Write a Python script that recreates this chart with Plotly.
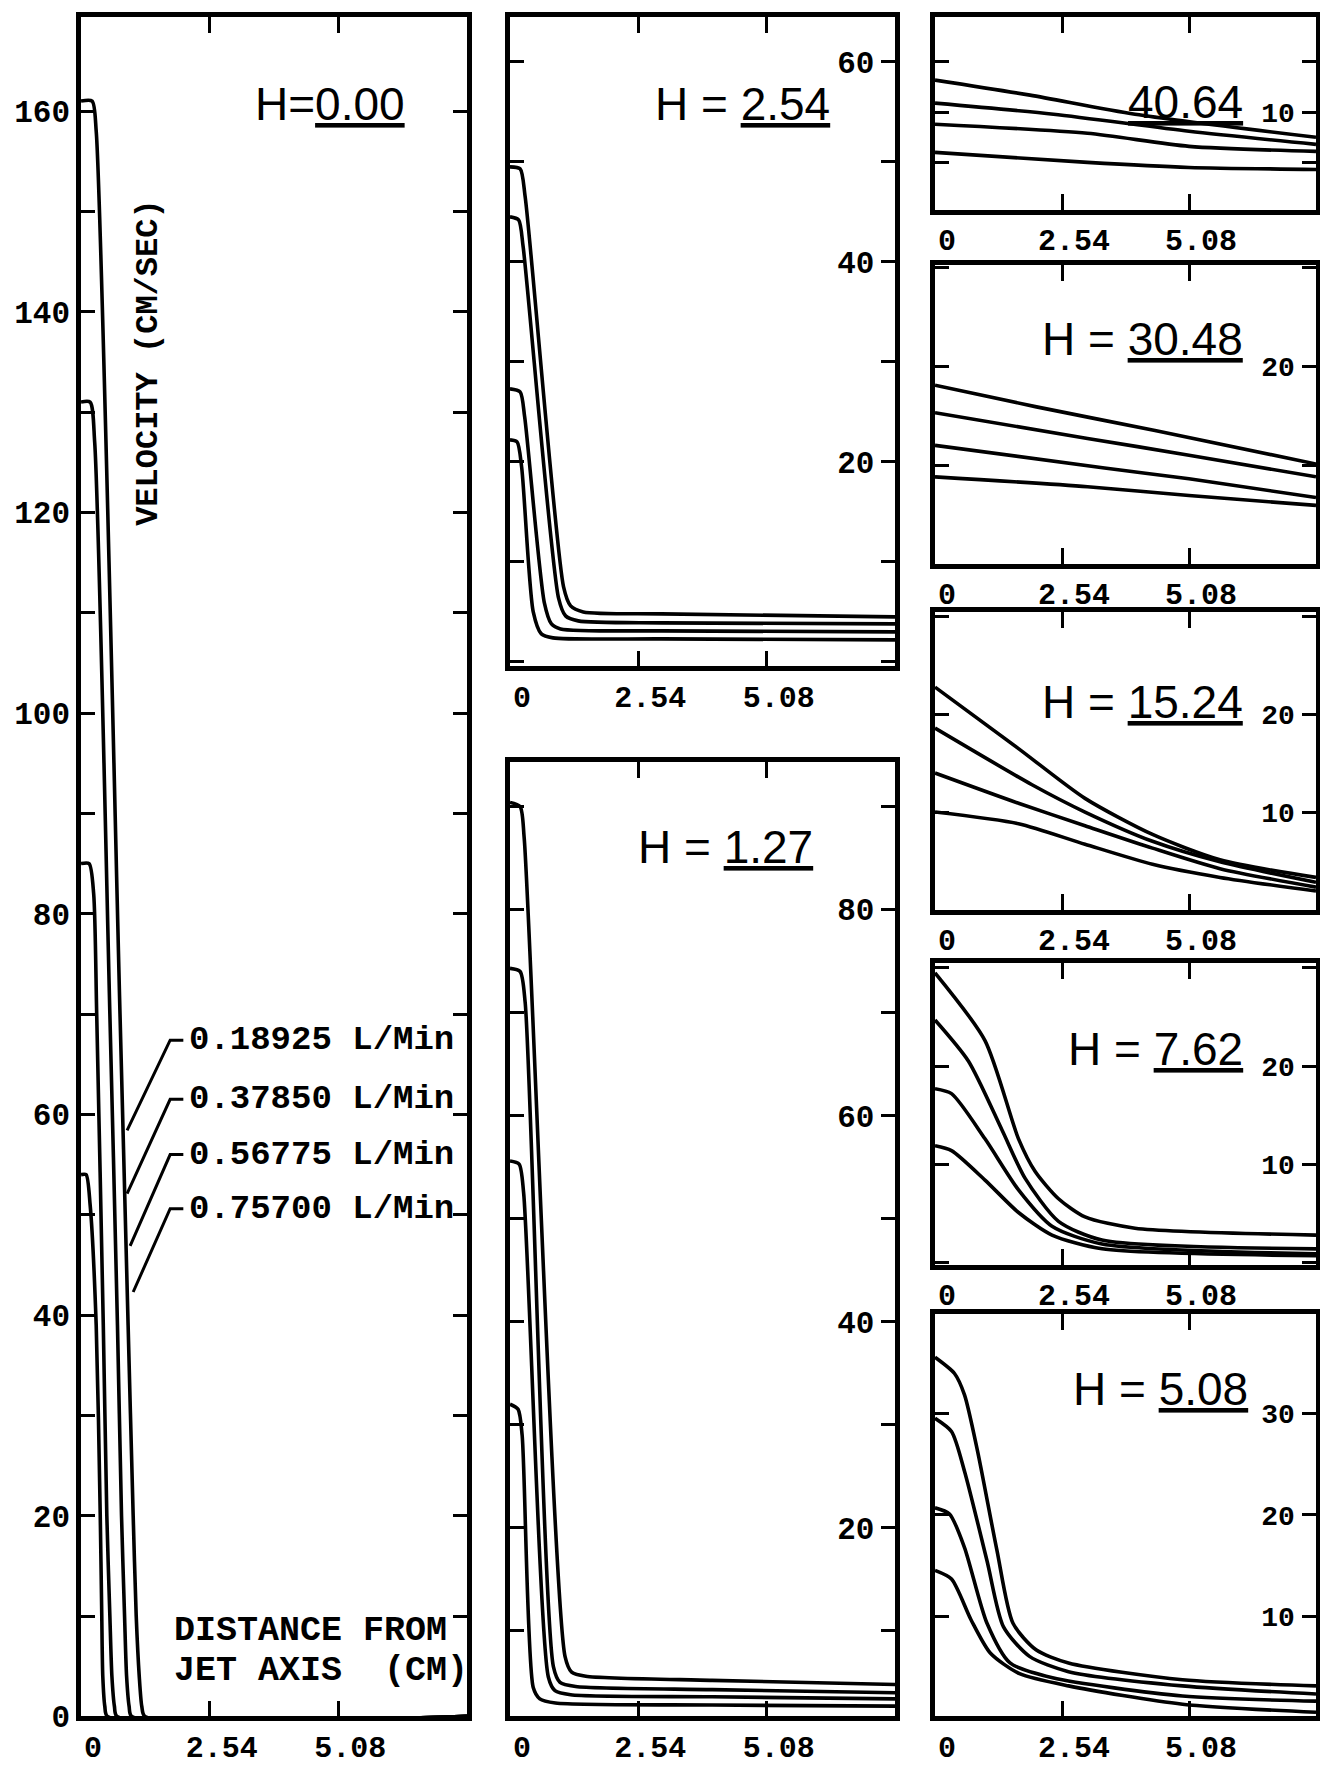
import plotly.graph_objects as go

# ---------------- data (x: distance from jet axis, cm ; v: velocity, cm/sec) ----------------
flow_labels = ["0.18925 L/Min", "0.37850 L/Min", "0.56775 L/Min", "0.75700 L/Min"]
x_tick_vals = [0, 2.54, 5.08]
x_tick_text = ["0", "2.54", "5.08"]
X_MAX = 7.62

# H = 0.00
h000_x = [[0, 0.22, 0.30, 0.77, 0.93, 1.03, 1.09, 1.15, 1.20, 1.26, 7.62],
          [0, 0.18, 0.27, 0.57, 0.72, 0.80, 0.86, 0.90, 0.95, 1.00, 7.62],
          [0, 0.16, 0.25, 0.31, 0.44, 0.51, 0.57, 0.61, 0.66, 0.71, 7.62],
          [0, 0.10, 0.18, 0.30, 0.38, 0.41, 0.43, 0.47, 0.52, 7.62]]
h000_v = [[161, 161, 158, 70, 39, 20, 10, 4, 1, 0, 0],
          [131, 131, 127, 70, 39, 20, 10, 4, 1, 0, 0],
          [85, 85, 82, 70, 39, 20, 10, 4, 1, 0, 0],
          [54, 54, 51, 39, 20, 10, 4, 1, 0, 0]]

# H = 2.54
h254_x = [[0, 0.20, 0.30, 1.06, 1.20, 1.45, 3.0, 7.62],
          [0, 0.17, 0.26, 0.96, 1.10, 1.35, 3.0, 7.62],
          [0, 0.20, 0.29, 0.68, 0.82, 1.00, 3.0, 7.62],
          [0, 0.14, 0.23, 0.46, 0.62, 0.85, 3.0, 7.62]]
h254_v = [[49.5, 49.3, 46.5, 7.5, 5.6, 5.0, 4.8, 4.5],
          [44.5, 44.2, 41.5, 6.4, 4.6, 4.1, 3.9, 3.8],
          [27.3, 27.0, 24.5, 5.9, 3.8, 3.3, 3.1, 3.0],
          [22.2, 22.0, 19.5, 5.0, 2.8, 2.4, 2.3, 2.2]]

# H = 1.27
h127_x = [[0, 0.20, 0.28, 1.09, 1.22, 1.50, 4.0, 7.62],
          [0, 0.20, 0.30, 0.86, 0.99, 1.30, 4.0, 7.62],
          [0, 0.18, 0.27, 0.76, 0.89, 1.20, 4.0, 7.62],
          [0, 0.16, 0.24, 0.46, 0.59, 0.90, 4.0, 7.62]]
h127_v = [[90.4, 90.0, 87.0, 7.5, 6.0, 5.6, 5.2, 4.8],
          [74.3, 74.0, 71.0, 6.5, 5.0, 4.6, 4.3, 4.0],
          [55.6, 55.3, 52.5, 5.5, 4.2, 3.8, 3.6, 3.4],
          [32.0, 31.5, 29.0, 4.5, 3.4, 3.0, 2.8, 2.7]]

# H = 40.64
h4064_x = [[0, 1.9, 4.0, 7.62],
           [0, 2.37, 5.08, 7.62],
           [0, 3.05, 5.08, 7.62],
           [0, 3.05, 5.08, 7.62]]
h4064_v = [[13.2, 11.7, 9.8, 7.5],
           [10.9, 9.8, 8.1, 6.8],
           [8.8, 7.9, 6.6, 6.1],
           [6.0, 5.0, 4.5, 4.3]]

# H = 30.48
h3048_x = [[0, 2.03, 4.4, 7.62],
           [0, 3.05, 5.08, 7.62],
           [0, 3.39, 5.08, 7.62],
           [0, 3.05, 5.08, 7.62]]
h3048_v = [[18.1, 15.9, 13.5, 10.1],
           [15.3, 12.7, 11.0, 8.8],
           [12.0, 9.7, 8.6, 6.7],
           [8.8, 7.8, 6.9, 5.9]]

# H = 15.24
h1524_x = [[0, 1.67, 3.0, 4.35, 5.7, 7.62],
           [0, 1.94, 3.0, 4.35, 5.7, 7.62],
           [0, 1.67, 3.0, 4.35, 5.7, 7.62],
           [0, 1.67, 3.0, 4.35, 5.7, 7.62]]
h1524_v = [[22.8, 16.5, 11.4, 7.7, 5.1, 3.3],
           [18.6, 12.8, 10.0, 7.0, 4.9, 2.8],
           [14.0, 10.9, 8.6, 6.3, 4.2, 2.3],
           [10.0, 8.8, 6.7, 4.65, 3.3, 1.9]]

# H = 7.62
h762_x = [[0, 1.0, 1.67, 2.0, 2.47, 3.0, 4.0, 7.62],
          [0, 0.67, 1.34, 1.8, 2.47, 3.34, 7.62],
          [0, 0.33, 1.0, 1.67, 2.34, 3.34, 7.62],
          [0, 0.33, 1.0, 1.67, 2.34, 3.34, 7.62]]
h762_v = [[29.5, 22.6, 12.6, 9.3, 6.5, 4.65, 3.5, 2.8],
          [24.7, 20.5, 13.5, 8.6, 4.2, 2.3, 1.4],
          [17.7, 17.2, 12.6, 7.4, 3.7, 1.9, 0.9],
          [11.9, 11.4, 8.4, 5.1, 2.8, 1.4, 0.7]]

# H = 5.08
h508_x = [[0, 0.39, 0.59, 0.85, 1.24, 1.56, 2.02, 2.67, 4.95, 7.62],
          [0, 0.33, 0.59, 1.04, 1.37, 1.89, 2.67, 4.95, 7.62],
          [0, 0.29, 0.59, 1.04, 1.50, 2.35, 4.95, 7.62],
          [0, 0.33, 0.72, 1.11, 1.69, 2.67, 4.95, 7.62]]
h508_v = [[35.5, 33.9, 31.8, 26.3, 16.5, 9.35, 6.75, 5.45, 3.8, 3.2],
          [29.5, 28.2, 24.3, 15.5, 9.0, 6.1, 4.6, 3.2, 2.4],
          [20.7, 20.1, 16.8, 9.35, 5.45, 4.0, 2.2, 1.7],
          [14.55, 13.7, 9.7, 6.4, 4.4, 3.2, 1.4, 0.6]]

# legend leader lines (left panel, data units)
leader_y = [67.4, 61.5, 56.0, 50.6]
leader_tip_x = [0.91, 0.91, 0.97, 1.03]
leader_tip_y = [58.4, 52.1, 46.9, 42.3]

# ---------------- layout ----------------
W, H = 1320, 1771
MONO = "Liberation Mono"
SANS = "Liberation Sans"


def px_x(a, b):
    return [a / W, b / W]


def px_y(top, bottom):
    return [1 - bottom / H, 1 - top / H]


panels = [
    dict(x=h000_x, v=h000_v, xd=(81, 467), yd=(17, 1736), yr=[0, 169.4], step=10, lab=20,
         side="left", lfs=31, title="H=<u>0.00</u>", tx=407, ty=105),
    dict(x=h254_x, v=h254_v, xd=(510, 895), yd=(17, 674), yr=[-0.45, 64.5], step=10, lab=20,
         side="right", lfs=31, title="H = <u>2.54</u>", tx=832, ty=105),
    dict(x=h127_x, v=h127_v, xd=(510, 895), yd=(771, 1736), yr=[1.7, 94.3], step=10, lab=20,
         side="right", lfs=31, title="H = <u>1.27</u>", tx=815, ty=857),
    dict(x=h4064_x, v=h4064_v, xd=(935, 1316), yd=(17, 212), yr=[0.3, 19.5], step=5, lab=10,
         side="right", lfs=28, title="<u>40.64</u>", tx=1245, ty=103),
    dict(x=h3048_x, v=h3048_v, xd=(935, 1316), yd=(268, 570), yr=[0.0, 30.3], step=10, lab=20,
         side="right", lfs=28, title="H = <u>30.48</u>", tx=1245, ty=343),
    dict(x=h1524_x, v=h1524_v, xd=(935, 1316), yd=(619, 920), yr=[0.0, 30.5], step=10, lab=10,
         side="right", lfs=28, title="H = <u>15.24</u>", tx=1245, ty=710),
    dict(x=h762_x, v=h762_v, xd=(935, 1316), yd=(974, 1279), yr=[-0.2, 30.5], step=10, lab=10,
         side="right", lfs=28, title="H = <u>7.62</u>", tx=1245, ty=1061),
    dict(x=h508_x, v=h508_v, xd=(935, 1316), yd=(1329, 1736), yr=[0.2, 39.75], step=10, lab=10,
         side="right", lfs=28, title="H = <u>5.08</u>", tx=1250, ty=1405),
]

fig = go.Figure()
layout = dict(width=W, height=H, margin=dict(l=0, r=0, t=0, b=0),
              paper_bgcolor="white", plot_bgcolor="white", showlegend=False)
annotations = []
shapes = []

for i, p in enumerate(panels):
    n = i + 1
    xa = "x" if n == 1 else f"x{n}"
    ya = "y" if n == 1 else f"y{n}"
    for cx, cv in zip(p["x"], p["v"]):
        fig.add_trace(go.Scatter(x=cx, y=cv, mode="lines", xaxis=xa, yaxis=ya,
                                 line=dict(color="black", width=3.6, shape="spline", smoothing=0.7),
                                 hoverinfo="skip"))
    lo, hi = p["yr"]
    tv = [t for t in range(0, 200, p["step"]) if lo <= t <= hi]
    tt = [str(t) if t % p["lab"] == 0 and (t > 0 or n == 1) else "" for t in tv]
    xkey = "xaxis" if n == 1 else f"xaxis{n}"
    ykey = "yaxis" if n == 1 else f"yaxis{n}"
    layout[xkey] = dict(domain=px_x(*p["xd"]), range=[0, X_MAX], anchor=ya,
                        tickvals=x_tick_vals, ticktext=x_tick_text,
                        ticks="inside", ticklen=16, tickwidth=3, tickcolor="black",
                        showline=True, linewidth=4.5, linecolor="black", mirror="ticks",
                        showgrid=False, zeroline=False, ticklabelshift=12,
                        tickfont=dict(family=MONO, size=30, color="black", weight="bold"))
    yax = dict(domain=px_y(*p["yd"]), range=p["yr"], anchor=xa,
               tickvals=tv, ticktext=tt, side=p["side"],
               ticks="inside", ticklen=14, tickwidth=3, tickcolor="black",
               showline=True, linewidth=4.5, linecolor="black", mirror="ticks",
               showgrid=False, zeroline=False,
               tickfont=dict(family=MONO, size=p["lfs"], color="black", weight="bold"))
    if p["side"] == "right":
        yax["ticklabelposition"] = "inside"
        yax["ticklabelstandoff"] = 10
    layout[ykey] = yax
    annotations.append(dict(text=p["title"], xref="paper", yref="paper",
                            x=p["tx"] / W, y=1 - p["ty"] / H, xanchor="right", yanchor="middle",
                            showarrow=False, font=dict(family=SANS, size=46, color="black")))

# legend labels with leader lines (left panel)
for lab, ly, tx_, ty_ in zip(flow_labels, leader_y, leader_tip_x, leader_tip_y):
    shapes.append(dict(type="path", xref="x", yref="y",
                       path=f"M 2.02,{ly} L 1.76,{ly} L {tx_},{ty_}",
                       line=dict(color="black", width=3)))
    annotations.append(dict(text=lab, xref="x", yref="y", x=2.10, y=ly,
                            xanchor="left", yanchor="middle", showarrow=False,
                            font=dict(family=MONO, size=34, color="black", weight="bold")))

annotations.append(dict(text="VELOCITY (CM/SEC)", xref="paper", yref="paper",
                        x=149 / W, y=1 - 367 / H, textangle=-90, showarrow=False,
                        xanchor="center", yanchor="middle",
                        font=dict(family=MONO, size=32, color="black", weight="bold")))
annotations.append(dict(text="DISTANCE FROM", xref="paper", yref="paper",
                        x=172 / W, y=1 - 1650 / H, showarrow=False,
                        xanchor="left", yanchor="middle",
                        font=dict(family=MONO, size=35, color="black", weight="bold")))
annotations.append(dict(text="JET AXIS\u00a0 (CM)", xref="paper", yref="paper",
                        x=172 / W, y=1 - 1690 / H, showarrow=False,
                        xanchor="left", yanchor="middle",
                        font=dict(family=MONO, size=35, color="black", weight="bold")))

layout["annotations"] = annotations
layout["shapes"] = shapes
fig.update_layout(**layout)
fig.write_html("out.html", config={"displayModeBar": False},
               post_script="document.body.style.margin='0';document.body.style.padding='0';")
